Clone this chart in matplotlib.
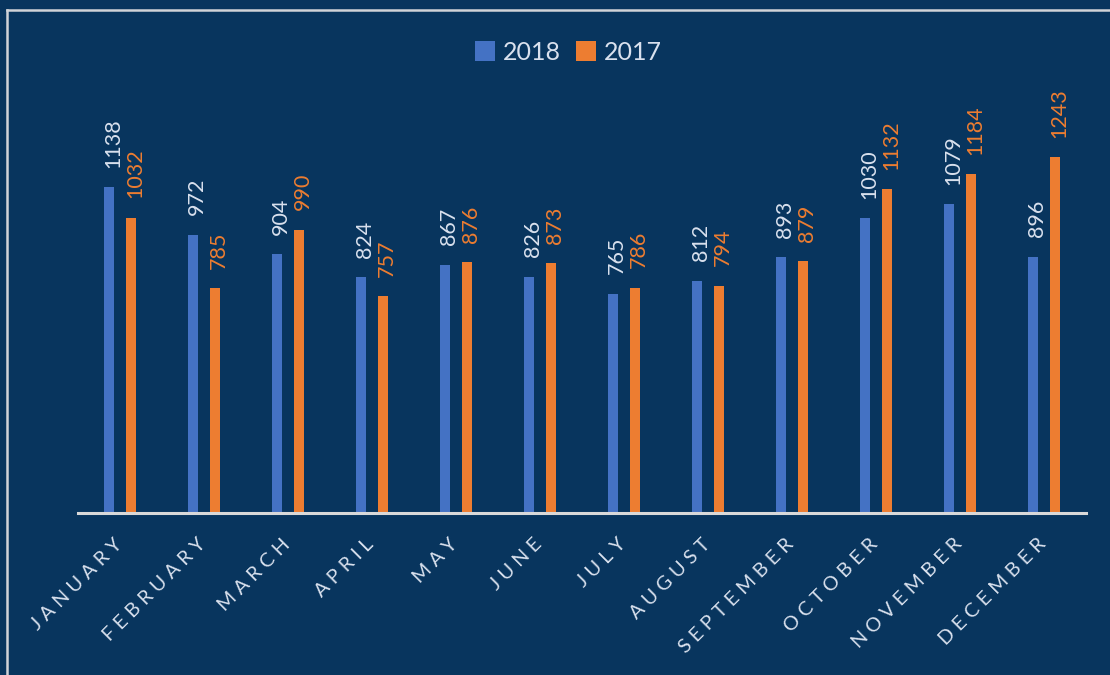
import matplotlib
matplotlib.use("Agg")
import matplotlib.pyplot as plt
import numpy as np
from matplotlib.lines import Line2D

months = ["JANUARY", "FEBRUARY", "MARCH", "APRIL", "MAY", "JUNE", "JULY",
          "AUGUST", "SEPTEMBER", "OCTOBER", "NOVEMBER", "DECEMBER"]
series_names = ["2018", "2017"]
values_2018 = [1138, 972, 904, 824, 867, 826, 765, 812, 893, 1030, 1079, 896]
values_2017 = [1032, 785, 990, 757, 876, 873, 786, 794, 879, 1132, 1184, 1243]

BG = "#08355E"
BLUE = "#4472C4"
ORANGE = "#ED7D31"
LIGHT = "#D9E1EE"
FRAME = "#D0D3D8"

plt.rcParams['font.family'] = ['Lato', 'DejaVu Sans']

W, H = 1110, 675
fig = plt.figure(figsize=(W / 100, H / 100), dpi=100, facecolor=BG)
ax = fig.add_axes([78 / W, (H - 512.5) / H, (1086 - 78) / W, 400 / H])
ax.set_facecolor(BG)

x = np.arange(len(months))
bw = 0.12
off = 0.131
b1 = ax.bar(x - off, values_2018, width=bw, color=BLUE, label=series_names[0], zorder=2)
b2 = ax.bar(x + off, values_2017, width=bw, color=ORANGE, label=series_names[1], zorder=2)

ax.set_xlim(-0.5, len(months) - 0.5)
ax.set_ylim(0, 1400)

for s in ["top", "right", "left"]:
    ax.spines[s].set_visible(False)
ax.spines["bottom"].set_color("#D9D9D9")
ax.spines["bottom"].set_linewidth(2.2)
ax.set_yticks([])
ax.set_xticks([])

for xi, v in zip(x - off, values_2018):
    ax.annotate(str(v), xy=(xi, v), xytext=(3, 14), textcoords="offset points",
                rotation=90, ha="center", va="bottom", fontsize=15.5, color=LIGHT)
for xi, v in zip(x + off, values_2017):
    ax.annotate(str(v), xy=(xi, v), xytext=(3, 14), textcoords="offset points",
                rotation=90, ha="center", va="bottom", fontsize=15.5, color=ORANGE)

for xi, m in zip(x, months):
    ax.annotate(" ".join(m), xy=(xi, 0), xytext=(-5, -16.5), textcoords="offset points",
                rotation=45, rotation_mode="anchor", ha="right", va="top",
                fontsize=14.3, color=LIGHT)

leg = fig.legend(handles=[b1, b2], labels=series_names, loc="center",
                 bbox_to_anchor=(0.512, 1 - 52 / H), ncol=2, frameon=False,
                 fontsize=18, handlelength=0.8, handleheight=0.85,
                 handletextpad=0.3, columnspacing=0.62, borderpad=0)
for t in leg.get_texts():
    t.set_color(LIGHT)

# outer frame
fig.add_artist(Line2D([6.5 / W, 1.0], [1 - 9.5 / H, 1 - 9.5 / H], transform=fig.transFigure,
                      color=FRAME, lw=1.8))
fig.add_artist(Line2D([6.5 / W, 6.5 / W], [0, 1 - 9.5 / H], transform=fig.transFigure,
                      color=FRAME, lw=1.8))

fig.savefig("out.png", dpi=100, facecolor=BG)
